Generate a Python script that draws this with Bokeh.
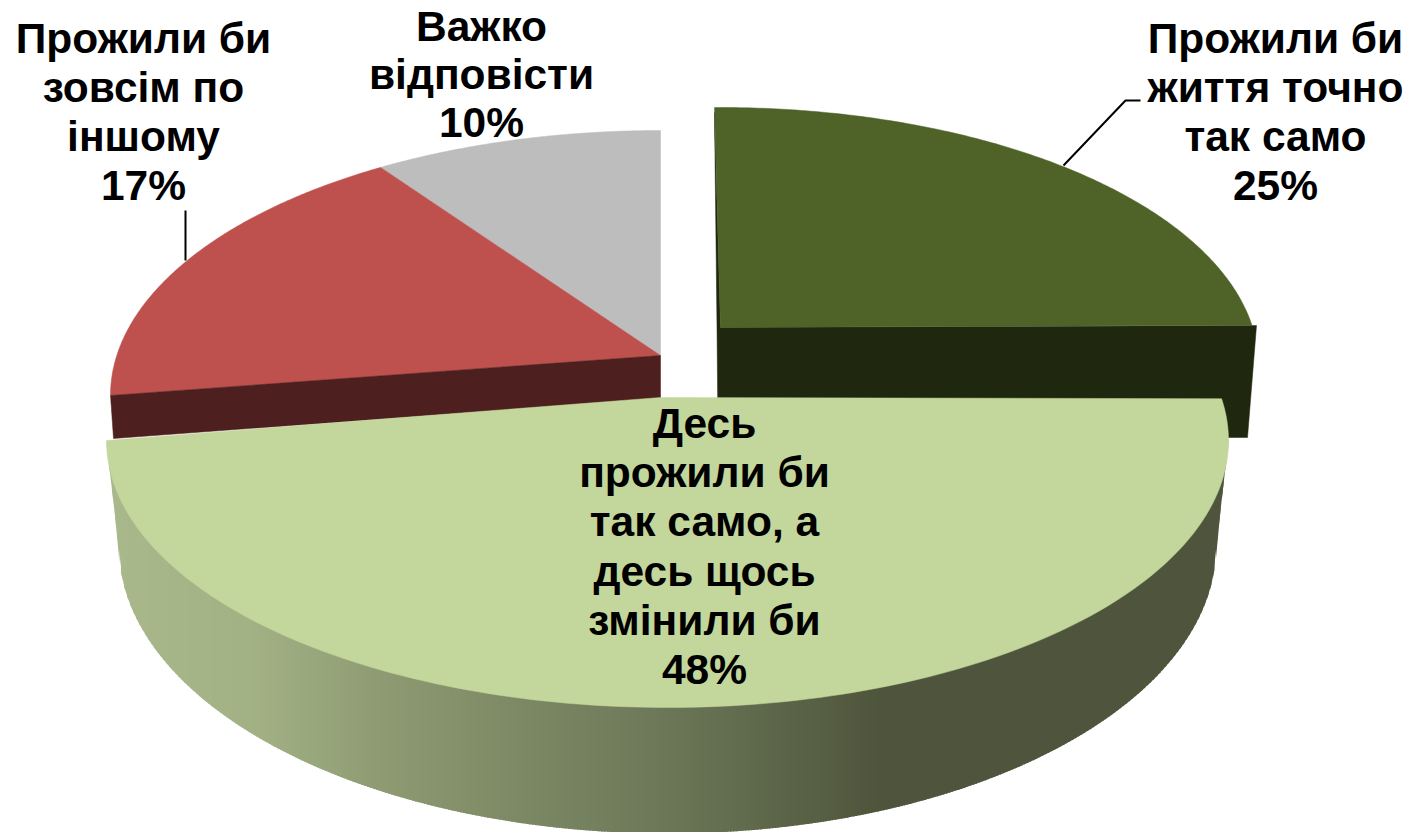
import numpy as np
from bokeh.plotting import figure
from bokeh.core.properties import value
from bokeh.embed import file_html
from bokeh.resources import INLINE

# ---- data (clockwise from 12 o'clock) ----
categories = ["Прожили би життя точно так само",
              "Десь прожили би так само, а десь щось змінили би",
              "Прожили би зовсім по іншому",
              "Важко відповісти"]
values = [25, 48, 17, 10]
top_colors = ["#4F6228", "#C3D69B", "#BE504D", "#BDBDBD"]

# perspective correction of each slice edge, in degrees (5 edges)
edge_shift = [0, -9, 7.2, 5.4, 0]
# slice geometry in page pixels: apex, rim-ellipse centre, radii
apex = [(720, 327), (660, 397), (660, 355), (660, 355)]
rim_c = [(720, 365), (667, 440), (660, 395), (660, 395)]
rim_r = [(538, 258), (561, 267), (550, 265), (550, 265)]

label_lines = [
    ["Прожили би", "життя точно", "так само", "25%"],
    ["Десь", "прожили би", "так само, а", "десь щось", "змінили би", "48%"],
    ["Прожили би", "зовсім по", "іншому", "17%"],
    ["Важко", "відповісти", "10%"],
]
label_x = [1275, 704, 143, 481]
label_y0 = [38, 423, 38, 26]
label_step = [49, 49.2, 49, 48]

# gradient of the front wall: x position -> colour
grad_x = [105, 250, 400, 660, 880, 1230]
grad_rgb = [(170, 185, 139), (163, 178, 133), (139, 152, 112),
            (108, 120, 88), (79, 85, 60), (79, 85, 60)]

p = figure(width=1411, height=832, x_range=(0, 1411), y_range=(832, 0),
           toolbar_location=None, output_backend="svg", min_border=0,
           outline_line_color=None, background_fill_color="white")
p.axis.visible = False
p.grid.visible = False

cum = np.concatenate([[0], np.cumsum(values)]) / sum(values) * 360.0
edges = cum + np.array(edge_shift)


def rim(i, a, b, n=160):
    u = np.radians(np.linspace(a, b, n))
    return (rim_c[i][0] + rim_r[i][0] * np.sin(u),
            rim_c[i][1] - rim_r[i][1] * np.cos(u))


def top_face(i):
    x, y = rim(i, edges[i], edges[i + 1])
    return ([apex[i][0]] + list(x), [apex[i][1]] + list(y))


# grey and red faces, with red's inner wall
for i in (3, 2):
    xs, ys = top_face(i)
    p.patch(xs, ys, fill_color=top_colors[i], line_color=top_colors[i], line_width=0.5)
p.patch([110, 660, 660, 113], [395, 355, 398, 438],
        fill_color="#4D1F1E", line_color="#4D1F1E", line_width=0.5)

# dark green wall and face
p.patch([714, 716.5, 717.5, 1247, 1256, 720], [112, 327, 437, 437, 325, 327],
        fill_color="#20270F", line_color="#20270F", line_width=0.5)
xs, ys = top_face(0)
xs[1] = 714
p.patch(xs, ys, fill_color=top_colors[0], line_color=top_colors[0], line_width=0.5)

# front wall of the big slice as narrow overlapping vertical strips
LX0, LX1, RX1, RX0 = 105.5, 118.0, 1216.0, 1228.0


def wall_top(x):
    d = np.clip((x - rim_c[1][0]) / rim_r[1][0], -1, 1)
    return rim_c[1][1] + rim_r[1][1] * np.sqrt(1 - d * d) - 2


def wall_bottom(x):
    d = np.clip((x - 667.0) / 549.0, -1, 1)
    y = 545.0 + 288.0 * np.sqrt(1 - d * d)
    if x < LX1:
        return 438 + (x - LX0) / (LX1 - LX0) * (545 - 438)
    if x > RX1:
        return 440 + (RX0 - x) / (RX0 - RX1) * (545 - 440)
    return y


grid = list(np.arange(LX0, RX0, 3.0)) + [RX0]
sx, sy, sc = [], [], []
for a, b in zip(grid[:-1], grid[1:]):
    e = min(b + 1.5, RX0)
    sx.append([a, e, e, a])
    sy.append([wall_top(a), wall_top(e), wall_bottom(e), wall_bottom(a)])
    r = [int(np.interp(a, grad_x, [c[j] for c in grad_rgb])) for j in range(3)]
    sc.append("#%02X%02X%02X" % tuple(r))
p.patches(sx, sy, fill_color=sc, line_color=None)

xs, ys = top_face(1)
p.patch(xs, ys, fill_color=top_colors[1], line_color=top_colors[1], line_width=0.5)

# leader lines
p.line([1063, 1125, 1140], [165, 100, 100], line_color="black", line_width=2)
p.line([185, 185], [260, 210], line_color="black", line_width=2)

# labels
tx_, ty_, tt_ = [], [], []
for i, lines in enumerate(label_lines):
    for j, s in enumerate(lines):
        tx_.append(label_x[i])
        ty_.append(label_y0[i] + j * label_step[i])
        tt_.append(s)
p.text(tx_, ty_, text=tt_, text_font=value("Liberation Sans"), text_font_style="bold",
       text_font_size="42.5px", text_color="black", text_align="center",
       text_baseline="middle")

open("out.html", "w").write(file_html(p, INLINE))
